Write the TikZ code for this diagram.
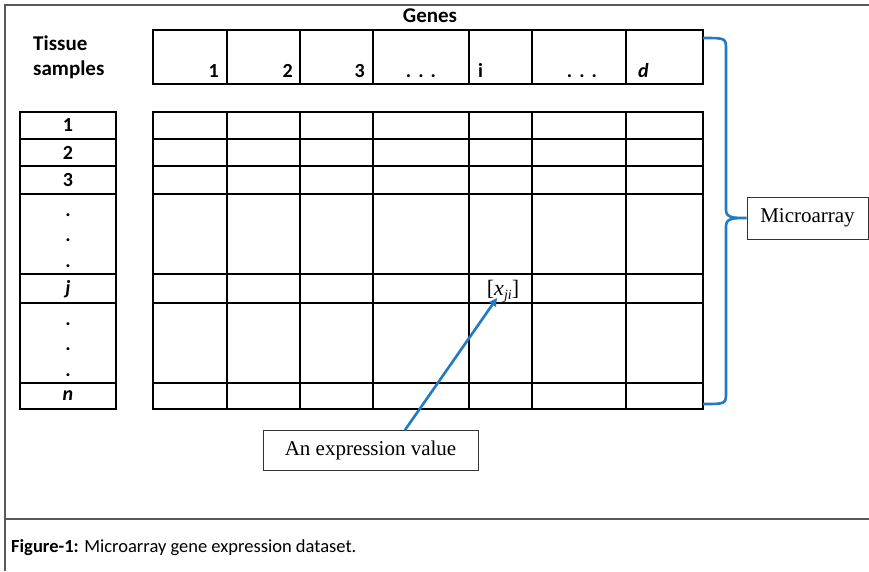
\documentclass[tikz,border=0pt]{standalone}
\usepackage{fontspec}
\setmainfont{Liberation Serif}
\newfontfamily\calfont{Carlito}
\usetikzlibrary{arrows.meta}
\definecolor{bracecol}{RGB}{32,122,196}
\definecolor{framecol}{RGB}{90,90,90}
\begin{document}
\begin{tikzpicture}[x=1pt,y=-1pt,
  gridline/.style={line width=1.6pt, black},
  frameline/.style={line width=1.3pt, framecol},
  lbl/.style={font=\calfont\bfseries\fontsize{21}{24}\selectfont, inner sep=0pt},
  num/.style={font=\calfont\bfseries\fontsize{20}{24}\selectfont, inner sep=0pt},
  serifbox/.style={draw, line width=1pt, black!80, text=black, font=\fontsize{21}{24}\selectfont, inner sep=0pt},
  bluebrace/.style={line width=2.6pt, bracecol},
  bluearrow/.style={line width=2.6pt, bracecol, -{Triangle[length=8pt,width=8pt]}}
]
\useasboundingbox (0,0) rectangle (869,571);
% outer frame
\draw[frameline] (869,5) -- (5,5) -- (5,571);
\draw[frameline] (5,519) -- (869,519);

% header row
\draw[gridline] (153,30) rectangle (703,84);
\foreach \x in {227,300,373,469,532,626} \draw[gridline] (\x,30) -- (\x,84);

% main grid
\draw[gridline] (153,112) rectangle (703,409);
\foreach \x in {227,300,373,469,532,626} \draw[gridline] (\x,112) -- (\x,409);
\foreach \y in {139,166,194,274,303,383} \draw[gridline] (153,\y) -- (703,\y);

% left column
\draw[gridline] (20,112) rectangle (116,409);
\foreach \y in {139,166,194,274,303,383} \draw[gridline] (20,\y) -- (116,\y);

% titles
\node[lbl] (genes) at (430,16) {Genes};
\node[lbl, anchor=west] (tissue) at (33,43) {Tissue};
\node[lbl, anchor=west] (samples) at (33,70) {samples};

% header labels
\node[num, anchor=base east] (h1) at (219,77) {1};
\node[num, anchor=base east] (h2) at (293,77) {2};
\node[num, anchor=base east] (h3) at (365,77) {3};
\node[num, anchor=base] (h4) at (421,77) {.\hspace{0.35em}.\hspace{0.35em}.};
\node[num, anchor=base west] (h5) at (478,77) {i};
\node[num, anchor=base] (h6) at (582,77) {.\hspace{0.35em}.\hspace{0.35em}.};
\node[num, anchor=base west] (h7) at (638,77) {\itshape d};

% row labels
\node[num] (r1) at (68,125.5) {1};
\node[num] (r2) at (68,152.5) {2};
\node[num] (r3) at (68,180) {3};
\node[num, anchor=base] (d1) at (68,216) {.};
\node[num, anchor=base] (d2) at (68,241) {.};
\node[num, anchor=base] (d3) at (68,267) {.};
\node[num] (rj) at (68,289) {\itshape j};
\node[num, anchor=base] (d4) at (68,325) {.};
\node[num, anchor=base] (d5) at (68,350) {.};
\node[num, anchor=base] (d6) at (68,376) {.};
\node[num] (rn) at (68,396) {\itshape n};

% expression value
\node[inner sep=0pt, anchor=base, font=\fontsize{22}{24}\selectfont] (xji) at (503,295)
  {[\textit{x}\raisebox{-0.22em}{\fontsize{14}{16}\selectfont\textit{ji}}]};
\node[serifbox, minimum width=215pt, minimum height=40pt] (expr) at (370.5,450) {An expression value};
\coordinate (arrS) at (405,430);
\coordinate (arrE) at (497,298);
\draw[bluearrow] (arrS) -- (arrE);

% microarray
\node[serifbox, minimum width=121pt, minimum height=42pt] (micro) at (807.5,218) {Microarray};
\coordinate (brTop) at (703,38);
\coordinate (brBot) at (703,404);
\draw[bluebrace] (brTop) .. controls (726,38) .. (726,50) -- (726,210)
  .. controls (726,218) and (734,218) .. (micro.west)
  .. controls (734,218) and (726,218) .. (726,226) -- (726,392)
  .. controls (726,404) .. (brBot);

% caption
\node[anchor=base west, inner sep=0pt, font=\calfont\fontsize{18.5}{20}\selectfont] (cap) at (11,552) {\textbf{Figure-1:} Microarray gene expression dataset.};
\end{tikzpicture}
\end{document}
